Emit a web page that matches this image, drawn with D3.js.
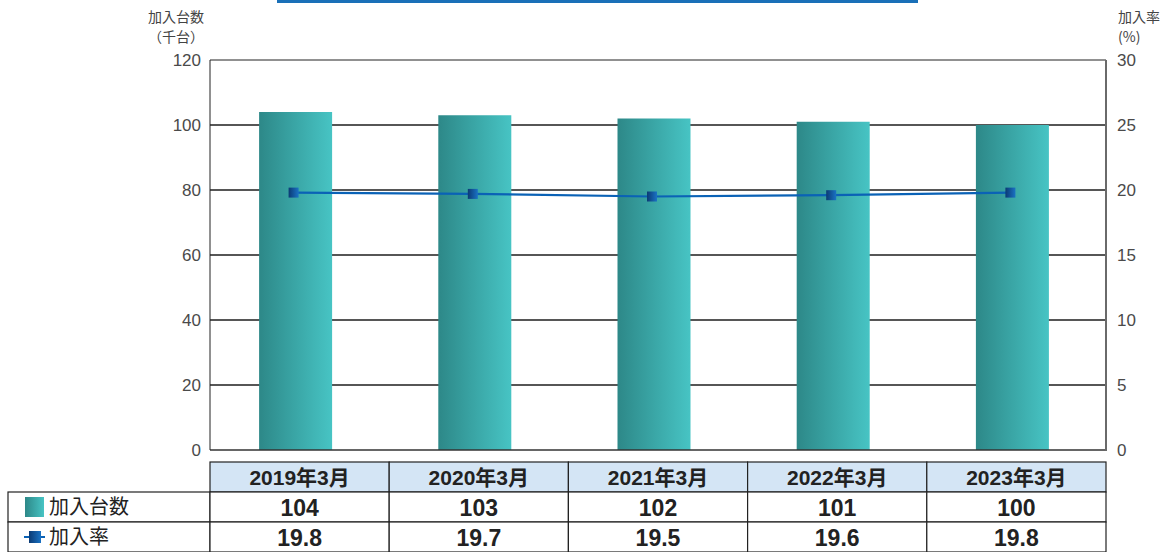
<!DOCTYPE html>
<html>
<head>
<meta charset="utf-8">
<script src="https://cdn.jsdelivr.net/npm/d3@7"></script>
<style>
  html, body { margin: 0; padding: 0; background: #fff; }
  svg { display: block; }
</style>
</head>
<body>
<svg id="chart" width="1173" height="552"></svg>
<script>
// Subscriber counts (thousand units) and subscription rate (%) by fiscal year end
const categories = ["2019年3月", "2020年3月", "2021年3月", "2022年3月", "2023年3月"];
const units = [104, 103, 102, 101, 100];
const rates = [19.8, 19.7, 19.5, 19.6, 19.8];
const leftTicks = [0, 20, 40, 60, 80, 100, 120];
const rightTicks = [0, 5, 10, 15, 20, 25, 30];
const seriesNames = ["加入台数", "加入率"];

const svg = d3.select("#chart");
const font = "'Liberation Sans', 'Noto Sans CJK JP', sans-serif";
const jpFont = "'Noto Sans CJK JP', sans-serif";

const plot = { left: 210, right: 1106, top: 60, bottom: 450 };

const x = d3.scaleBand().domain(categories).range([plot.left, plot.right]).padding(0);
const yL = d3.scaleLinear().domain([0, 120]).range([plot.bottom, plot.top]);
const yR = d3.scaleLinear().domain([0, 30]).range([plot.bottom, plot.top]);

const defs = svg.append("defs");
const barGrad = defs.append("linearGradient").attr("id", "barGrad")
  .attr("x1", "0%").attr("x2", "100%").attr("y1", "0%").attr("y2", "0%");
barGrad.append("stop").attr("offset", "0%").attr("stop-color", "#2d8888");
barGrad.append("stop").attr("offset", "100%").attr("stop-color", "#47c4c4");
const markGrad = defs.append("linearGradient").attr("id", "markGrad")
  .attr("x1", "0%").attr("x2", "100%").attr("y1", "0%").attr("y2", "0%");
markGrad.append("stop").attr("offset", "0%").attr("stop-color", "#0b3a74");
markGrad.append("stop").attr("offset", "100%").attr("stop-color", "#1a72c4");

// Blue rule at the top of the page
svg.append("rect").attr("x", 277).attr("y", 0).attr("width", 641).attr("height", 3)
  .attr("fill", "#1a70b8");

// Horizontal gridlines
svg.append("g").selectAll("line").data(leftTicks.filter(d => d > 0 && d < 120)).join("line")
  .attr("x1", plot.left).attr("x2", plot.right)
  .attr("y1", d => yL(d)).attr("y2", d => yL(d))
  .attr("stroke", "#1e1e1e").attr("stroke-width", 1.5);

// Bars
const barW = 73;
svg.append("g").selectAll("rect").data(categories).join("rect")
  .attr("x", d => x(d) + x.bandwidth() / 2 - barW / 2 - 4)
  .attr("y", (d, i) => yL(units[i]))
  .attr("width", barW)
  .attr("height", (d, i) => yL(0) - yL(units[i]))
  .attr("fill", "url(#barGrad)");

// Plot frame
svg.append("line").attr("x1", plot.left).attr("x2", plot.right).attr("y1", plot.top).attr("y2", plot.top)
  .attr("stroke", "#222").attr("stroke-width", 1);
svg.append("line").attr("x1", plot.left).attr("x2", plot.right).attr("y1", plot.bottom).attr("y2", plot.bottom)
  .attr("stroke", "#333").attr("stroke-width", 1.3);
svg.append("line").attr("x1", plot.left).attr("x2", plot.left).attr("y1", plot.top).attr("y2", plot.bottom)
  .attr("stroke", "#222").attr("stroke-width", 1);
svg.append("line").attr("x1", plot.right).attr("x2", plot.right).attr("y1", plot.top).attr("y2", plot.bottom + 1)
  .attr("stroke", "#6a6a6a").attr("stroke-width", 2);

// Axes (labels only)
const leftAxis = svg.append("g").attr("transform", `translate(${plot.left - 9},0)`)
  .call(d3.axisLeft(yL).tickValues(leftTicks).tickSize(0).tickPadding(0));
const rightAxis = svg.append("g").attr("transform", `translate(${plot.right + 11},0)`)
  .call(d3.axisRight(yR).tickValues(rightTicks).tickSize(0).tickPadding(0));
[leftAxis, rightAxis].forEach(g => {
  g.select(".domain").remove();
  g.selectAll("text").attr("font-family", "'Liberation Sans', sans-serif").attr("font-size", 17)
    .attr("fill", "#4a4a4a");
});

// Axis titles (two lines each)
function axisTitle(xPos, anchor, lines) {
  lines.forEach((s, i) => svg.append("text")
    .attr("x", xPos).attr("y", 22 + i * 20).attr("text-anchor", anchor)
    .attr("font-family", jpFont).attr("font-size", 14).attr("fill", "#444").text(s));
}
axisTitle(204, "end", ["加入台数", "（千台）"]);
axisTitle(1118, "start", ["加入率", "(%)"]);

// Rate line
const cx = d => x(d) + x.bandwidth() / 2 - 6;
const line = d3.line().x((d, i) => cx(categories[i])).y(d => yR(d));
svg.append("path").datum(rates).attr("d", line)
  .attr("fill", "none").attr("stroke", "#0a62b6").attr("stroke-width", 2.2);
const mk = 10;
svg.append("g").selectAll("rect").data(rates).join("rect")
  .attr("x", (d, i) => cx(categories[i]) - mk / 2)
  .attr("y", d => yR(d) - mk / 2)
  .attr("width", mk).attr("height", mk)
  .attr("fill", "url(#markGrad)");

// Data table
const rowTop = 462, rowH = 30;
const tbl = svg.append("g");
// header row
tbl.selectAll("rect.h").data(categories).join("rect").attr("class", "h")
  .attr("x", d => x(d)).attr("y", rowTop).attr("width", x.bandwidth()).attr("height", rowH)
  .attr("fill", "#d4e5f5").attr("stroke", "#222").attr("stroke-width", 1.2);
tbl.selectAll("text.h").data(categories).join("text").attr("class", "h")
  .attr("x", d => x(d) + x.bandwidth() / 2).attr("y", rowTop + rowH / 2 + 7.5)
  .attr("text-anchor", "middle").attr("font-family", font).attr("font-weight", "bold")
  .attr("font-size", 21).attr("fill", "#222").text(d => d);

// body rows
const rows = [units.map(String), rates.map(d => d.toFixed(1))];
rows.forEach((vals, r) => {
  const y0 = rowTop + rowH * (r + 1);
  tbl.append("rect").attr("x", 8).attr("y", y0).attr("width", plot.left - 8).attr("height", rowH)
    .attr("fill", "#fff").attr("stroke", "#222").attr("stroke-width", 1.2);
  tbl.selectAll(null).data(categories).join("rect")
    .attr("x", d => x(d)).attr("y", y0).attr("width", x.bandwidth()).attr("height", rowH)
    .attr("fill", "#fff").attr("stroke", "#222").attr("stroke-width", 1.2);
  tbl.selectAll(null).data(vals).join("text")
    .attr("x", (d, i) => x(categories[i]) + x.bandwidth() / 2).attr("y", y0 + rowH / 2 + 8.5)
    .attr("text-anchor", "middle").attr("font-family", font).attr("font-weight", "bold")
    .attr("font-size", 23).attr("fill", "#222").text(d => d);
  tbl.append("text").attr("x", 49).attr("y", y0 + rowH / 2 + 7)
    .attr("font-family", jpFont).attr("font-size", 20).attr("fill", "#222")
    .text(seriesNames[r]);
});

// Legend swatches inside the row labels
tbl.append("rect").attr("x", 25).attr("y", rowTop + rowH + 5).attr("width", 19).attr("height", 20)
  .attr("fill", "url(#barGrad)");
const ly = rowTop + rowH * 2 + rowH / 2;
tbl.append("line").attr("x1", 24).attr("x2", 45).attr("y1", ly).attr("y2", ly)
  .attr("stroke", "#0a62b6").attr("stroke-width", 2);
tbl.append("rect").attr("x", 29).attr("y", ly - 6).attr("width", 12).attr("height", 12)
  .attr("fill", "url(#markGrad)");
</script>
</body>
</html>
